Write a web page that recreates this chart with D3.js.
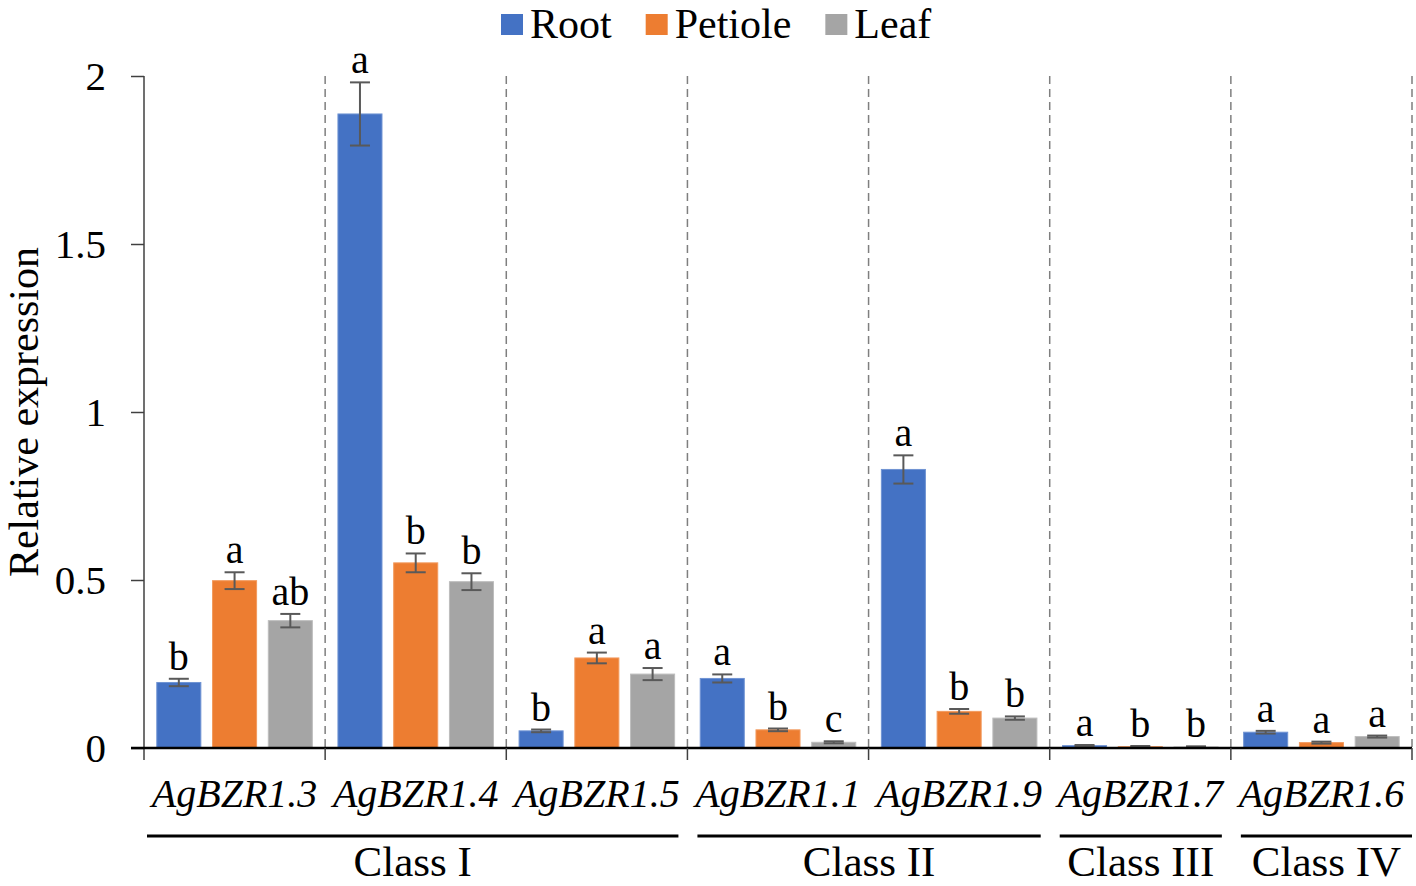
<!DOCTYPE html>
<html>
<head>
<meta charset="utf-8">
<script src="https://cdn.jsdelivr.net/npm/d3@7"></script>
<style>
  html, body { margin: 0; padding: 0; background: #fff; }
  svg { display: block; }
  text { font-family: "Liberation Serif", "Times New Roman", serif; fill: #000; }
</style>
</head>
<body>
<svg id="chart" width="1416" height="886"></svg>
<script>
// ---------- data ----------
const genes = ["AgBZR1.3", "AgBZR1.4", "AgBZR1.5", "AgBZR1.1", "AgBZR1.9", "AgBZR1.7", "AgBZR1.6"];
const seriesNames = ["Root", "Petiole", "Leaf"];
const rootValues    = [0.195, 1.887, 0.051, 0.207, 0.829, 0.007, 0.047];
const rootErrors    = [0.011, 0.094, 0.004, 0.012, 0.042, 0.002, 0.004];
const petioleValues = [0.498, 0.551, 0.268, 0.054, 0.109, 0.004, 0.016];
const petioleErrors = [0.025, 0.028, 0.016, 0.004, 0.007, 0.002, 0.003];
const leafValues    = [0.379, 0.495, 0.220, 0.017, 0.089, 0.003, 0.034];
const leafErrors    = [0.020, 0.025, 0.018, 0.003, 0.005, 0.002, 0.003];
const rootLetters    = ["b", "a", "b", "a", "a", "a", "a"];
const petioleLetters = ["a", "b", "a", "b", "b", "b", "a"];
const leafLetters    = ["ab", "b", "a", "c", "b", "b", "a"];
const classNames = ["Class I", "Class II", "Class III", "Class IV"];
const classFirstGene = ["AgBZR1.3", "AgBZR1.1", "AgBZR1.7", "AgBZR1.6"];
const classLastGene  = ["AgBZR1.5", "AgBZR1.9", "AgBZR1.7", "AgBZR1.6"];
const yTicks = [0, 0.5, 1, 1.5, 2];
const yTickLabels = ["0", "0.5", "1", "1.5", "2"];
const colors = ["#4472C4", "#ED7D31", "#A5A5A5"];
const strokeColors = ["#6F93D3", "#F29A5E", "#BDBDBD"];

const seriesTable = [
  { name: "Root",    values: rootValues,    errors: rootErrors,    letters: rootLetters },
  { name: "Petiole", values: petioleValues, errors: petioleErrors, letters: petioleLetters },
  { name: "Leaf",    values: leafValues,    errors: leafErrors,    letters: leafLetters }
];

// ---------- layout ----------
const svg = d3.select("#chart");
const plotLeft = 144, plotRight = 1412, plotTop = 76, plotBottom = 748;

const x0 = d3.scaleBand().domain(genes).range([plotLeft, plotRight]).padding(0);
const groupPad = 12.8;
const x1 = d3.scaleBand().domain(seriesNames)
  .range([groupPad, x0.bandwidth() - groupPad]).paddingInner(0.21).paddingOuter(0);
const y = d3.scaleLinear().domain([0, 2]).range([plotBottom, plotTop]);

// dashed separators
const boundaries = genes.slice(1).map(g => x0(g)).concat([plotRight]);
svg.append("g").selectAll("line").data(boundaries).join("line")
  .attr("x1", d => d).attr("x2", d => d)
  .attr("y1", plotTop).attr("y2", plotBottom)
  .attr("stroke", "#7f7f7f").attr("stroke-width", 1.5)
  .attr("stroke-dasharray", "8,5");

// bars
const barG = svg.append("g");
seriesTable.forEach((s, si) => {
  const g = barG.append("g");
  g.selectAll("rect").data(genes).join("rect")
    .attr("x", (d) => x0(d) + x1(s.name))
    .attr("width", x1.bandwidth())
    .attr("y", (d, i) => y(s.values[i]))
    .attr("height", (d, i) => y(0) - y(s.values[i]))
    .attr("fill", colors[si])
    .attr("stroke", strokeColors[si]).attr("stroke-width", 1);

  // error bars
  const capW = 20;
  const eg = g.append("g").attr("stroke", "#595959").attr("stroke-width", 2);
  genes.forEach((gene, i) => {
    const cx = x0(gene) + x1(s.name) + x1.bandwidth() / 2;
    const yHi = y(s.values[i] + s.errors[i]);
    const yLo = y(Math.max(0, s.values[i] - s.errors[i]));
    eg.append("line").attr("x1", cx).attr("x2", cx).attr("y1", yHi).attr("y2", yLo);
    eg.append("line").attr("x1", cx - capW / 2).attr("x2", cx + capW / 2).attr("y1", yHi).attr("y2", yHi);
    eg.append("line").attr("x1", cx - capW / 2).attr("x2", cx + capW / 2).attr("y1", yLo).attr("y2", yLo);
  });

  // significance letters
  g.selectAll("text.sig").data(genes).join("text")
    .attr("class", "sig")
    .attr("x", d => x0(d) + x1(s.name) + x1.bandwidth() / 2)
    .attr("y", (d, i) => y(s.values[i] + s.errors[i]) - 9)
    .attr("text-anchor", "middle")
    .attr("font-size", 40)
    .text((d, i) => s.letters[i]);
});

// y axis
const yAxis = d3.axisLeft(y).tickValues(yTicks)
  .tickFormat((d, i) => yTickLabels[i]).tickSize(13).tickPadding(25).tickSizeOuter(0);
const yg = svg.append("g").attr("transform", `translate(${plotLeft},0)`).call(yAxis);
yg.select(".domain").remove();
yg.selectAll(".tick line").attr("stroke", "#404040").attr("stroke-width", 1.5);
yg.selectAll(".tick text").attr("font-size", 41)
  .attr("font-family", "Liberation Serif, Times New Roman, serif").attr("fill", "#000");
svg.append("line").attr("x1", plotLeft).attr("x2", plotLeft)
  .attr("y1", plotTop).attr("y2", plotBottom + 12)
  .attr("stroke", "#404040").attr("stroke-width", 1.5);

// x axis baseline
svg.append("line").attr("x1", plotLeft - 13).attr("x2", plotRight)
  .attr("y1", y(0)).attr("y2", y(0))
  .attr("stroke", "#000").attr("stroke-width", 2.5);
// boundary ticks below axis
svg.append("g").selectAll("line").data(boundaries).join("line")
  .attr("x1", d => d).attr("x2", d => d)
  .attr("y1", plotBottom).attr("y2", plotBottom + 12)
  .attr("stroke", "#404040").attr("stroke-width", 1.5);

// gene labels
svg.append("g").selectAll("text").data(genes).join("text")
  .attr("x", d => x0(d) + x0.bandwidth() / 2)
  .attr("y", 807)
  .attr("text-anchor", "middle")
  .attr("font-size", 40).attr("font-style", "italic")
  .text(d => d);

// class brackets
classNames.forEach((c, i) => {
  const a = x0(classFirstGene[i]);
  const b = x0(classLastGene[i]) + x0.bandwidth();
  const xa = i === 0 ? a + 3 : a + 10;
  const xb = i === classNames.length - 1 ? b : b - 9;
  svg.append("line").attr("x1", xa).attr("x2", xb).attr("y1", 836).attr("y2", 836)
    .attr("stroke", "#000").attr("stroke-width", 3);
  svg.append("text").attr("x", (xa + xb) / 2).attr("y", 876)
    .attr("text-anchor", "middle").attr("font-size", 43).text(c);
});

// y axis title
svg.append("text")
  .attr("transform", `translate(38,${(plotTop + plotBottom) / 2}) rotate(-90)`)
  .attr("text-anchor", "middle").attr("font-size", 42)
  .text("Relative expression");

// legend
const legend = svg.append("g");
let lx = 501;
seriesNames.forEach((n, i) => {
  legend.append("rect").attr("x", lx).attr("y", 14).attr("width", 22).attr("height", 21)
    .attr("fill", colors[i]);
  const t = legend.append("text").attr("x", lx + 29).attr("y", 38)
    .attr("font-size", 42).text(n);
  lx += 29 + t.node().getComputedTextLength() + 34;
});
</script>
</body>
</html>
